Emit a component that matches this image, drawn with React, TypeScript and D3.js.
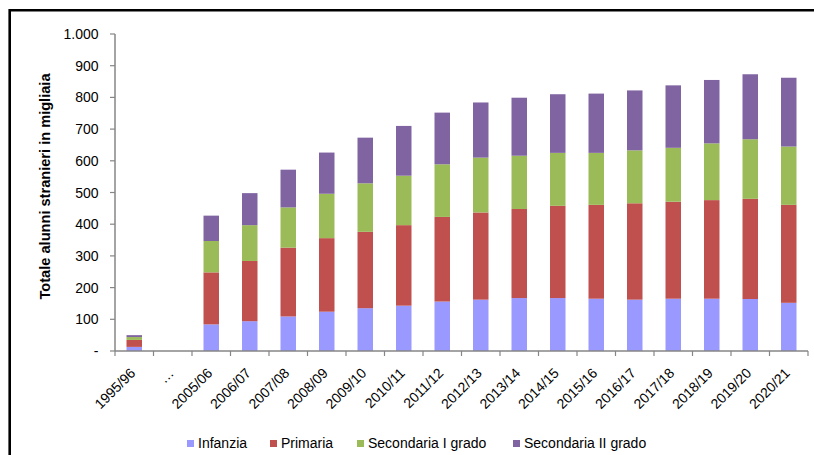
import React from "react";
import * as d3 from "d3";

// School years on the x axis ("…" marks the gap between 1995/96 and 2005/06)
const years = [
  "1995/96", "…", "2005/06", "2006/07", "2007/08", "2008/09", "2009/10",
  "2010/11", "2011/12", "2012/13", "2013/14", "2014/15", "2015/16",
  "2016/17", "2017/18", "2018/19", "2019/20", "2020/21",
];

// Foreign pupils per school level, thousands (null = no bar)
const infanzia = [13, null, 84, 94, 109, 124, 135, 143, 156, 162, 167, 167, 165, 162, 165, 165, 164, 152];
const primaria = [22, null, 164, 190, 217, 232, 241, 254, 267, 275, 281, 291, 296, 304, 306, 311, 316, 309];
const secondariaI = [9, null, 99, 113, 127, 140, 153, 156, 166, 173, 168, 167, 164, 167, 170, 179, 188, 184];
const secondariaII = [6, null, 80, 101, 119, 130, 144, 157, 163, 174, 183, 185, 187, 189, 197, 200, 205, 217];

const seriesNames = ["Infanzia", "Primaria", "Secondaria I grado", "Secondaria II grado"];
const seriesColors = ["#9999FF", "#C0504D", "#9BBB59", "#8064A2"];

const yTicks = [0, 100, 200, 300, 400, 500, 600, 700, 800, 900, 1000];

const W = 814;
const H = 455;
const FONT = "'Liberation Sans', Arial, sans-serif";
const AXIS = "#868686";

export default function App() {
  const plot = { left: 115, right: 808, top: 34, bottom: 351 };

  const y = d3.scaleLinear().domain([0, 1000]).range([plot.bottom, plot.top]);
  const x = d3.scaleBand<string>().domain(years).range([plot.left, plot.right]);
  const bandW = x.step();
  const center = (yr: string) => (x(yr) as number) + bandW / 2;
  const barW = 15.5;

  const table = years.map((yr, i) => ({
    year: yr,
    Infanzia: infanzia[i] ?? 0,
    Primaria: primaria[i] ?? 0,
    "Secondaria I grado": secondariaI[i] ?? 0,
    "Secondaria II grado": secondariaII[i] ?? 0,
  }));
  const stacked = d3.stack<any>().keys(seriesNames)(table);

  const fmt = (v: number) => (v === 0 ? "-" : d3.format(",")(v).replace(",", "."));

  const legendX = [187, 270, 357, 513];

  return (
    <svg width={W} height={H} style={{ position: "absolute", left: 0, top: 0, background: "#fff" }} fontFamily={FONT}>
      <rect x={0} y={0} width={W} height={H} fill="#fff" />
      {/* outer frame */}
      <path d={`M9.7,${H + 5} V10.3 H${W + 5}`} fill="none" stroke="#000" strokeWidth={2.6} />

      {/* bars */}
      {stacked.map((layer, si) => (
        <g key={layer.key} fill={seriesColors[si]}>
          {layer.map((d, i) =>
            d[1] - d[0] > 0 ? (
              <rect
                key={i}
                x={center(years[i]) - barW / 2}
                y={y(d[1])}
                width={barW}
                height={y(d[0]) - y(d[1])}
              />
            ) : null
          )}
        </g>
      ))}

      {/* y axis */}
      <line x1={plot.left} x2={plot.left} y1={plot.top} y2={plot.bottom} stroke={AXIS} strokeWidth={1.5} />
      {yTicks.map((t) => (
        <g key={t}>
          <line x1={plot.left - 5} x2={plot.left} y1={y(t)} y2={y(t)} stroke={AXIS} strokeWidth={1.2} />
          <text x={98.5} y={y(t)} dy="0.36em" textAnchor="end" fontSize={14} fill="#000">
            {fmt(t)}
          </text>
        </g>
      ))}

      {/* x axis */}
      <line x1={plot.left} x2={plot.right} y1={plot.bottom} y2={plot.bottom} stroke={AXIS} strokeWidth={1.5} />
      {d3.range(years.length + 1).map((i) => (
        <line
          key={i}
          x1={plot.left + i * bandW}
          x2={plot.left + i * bandW}
          y1={plot.bottom}
          y2={plot.bottom + 5}
          stroke={AXIS}
          strokeWidth={1.2}
        />
      ))}
      {years.map((yr) => (
        <text
          key={yr}
          transform={`translate(${center(yr) + 2},${plot.bottom + 23}) rotate(-45)`}
          textAnchor="end"
          fontSize={14}
          fill="#000"
        >
          {yr}
        </text>
      ))}

      {/* y axis title */}
      <text
        transform={`translate(50,186.5) rotate(-90)`}
        textAnchor="middle"
        fontSize={14.6}
        fontWeight="bold"
        fill="#000"
      >
        Totale alunni stranieri in migliaia
      </text>

      {/* legend */}
      {seriesNames.map((name, i) => (
        <g key={name}>
          <rect x={legendX[i]} y={440} width={7} height={7} fill={seriesColors[i]} />
          <text x={legendX[i] + 11} y={448} fontSize={14} fill="#000">
            {name}
          </text>
        </g>
      ))}
    </svg>
  );
}
